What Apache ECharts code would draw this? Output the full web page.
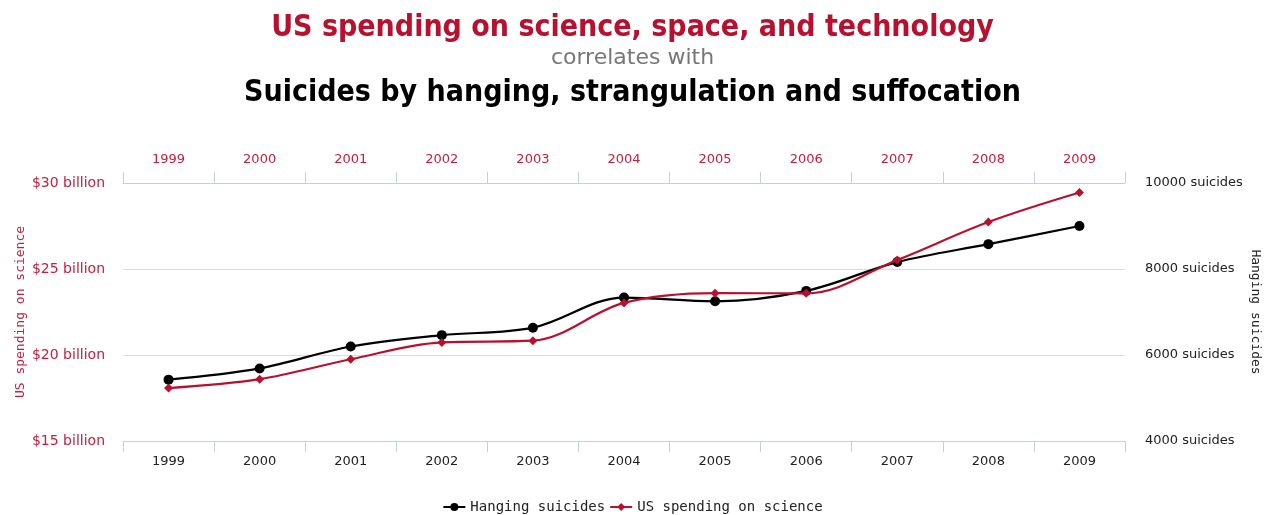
<!DOCTYPE html>
<html><head><meta charset="utf-8">
<script src="https://cdn.jsdelivr.net/npm/echarts@6/dist/echarts.min.js"></script>
<style>html,body{margin:0;padding:0;background:#fff}#c{width:1265px;height:515px}</style>
</head><body><div id="c"></div>
<script>
const years = ['1999','2000','2001','2002','2003','2004','2005','2006','2007','2008','2009'];
const hangingSuicides = [5427,5688,6198,6462,6635,7336,7248,7491,8161,8578,9000];
const usSpending = [18.079,18.594,19.753,20.734,20.831,23.029,23.597,23.584,25.525,27.731,29.449];
const leftTicks = [15,20,25,30];
const rightTicks = [4000,6000,8000,10000];

const RED = '#b8112f';
const LRED = '#c4203c';
const AXIS = '#c2cfe6';
const chart = echarts.init(document.getElementById('c'));
chart.setOption({
  animation:false,
  backgroundColor:'#fff',
  title:[
    {text:'US spending on science, space, and technology',left:'center',top:8,
     textStyle:{fontFamily:'DejaVu Sans Condensed',fontWeight:'bold',fontSize:30,color:RED}},
    {text:'correlates with',left:'center',top:42,
     textStyle:{fontFamily:'DejaVu Sans',fontWeight:'normal',fontSize:22,color:'#777'}},
    {text:'Suicides by hanging, strangulation and suffocation',left:'center',top:73,
     textStyle:{fontFamily:'DejaVu Sans Condensed',fontWeight:'bold',fontSize:30,color:'#000'}}
  ],
  legend:{top:495,left:'center',itemGap:4,itemWidth:22,itemHeight:10,
    textStyle:{fontFamily:'DejaVu Sans Mono',fontSize:14,color:'#222'},
    data:['Hanging suicides','US spending on science']},
  grid:{left:123,right:140,top:183,bottom:74,outerBoundsMode:'none',containLabel:false},
  xAxis:[
    {type:'category',data:years,position:'bottom',boundaryGap:true,
     axisLine:{show:true,onZero:false,lineStyle:{color:AXIS,width:1}},
     axisTick:{show:true,length:11,lineStyle:{color:AXIS}},
     axisLabel:{color:'#222',fontFamily:'DejaVu Sans',fontSize:13,margin:14}},
    {type:'category',data:years,position:'top',boundaryGap:true,
     axisLine:{show:true,onZero:false,lineStyle:{color:AXIS,width:1}},
     axisTick:{show:true,length:11,lineStyle:{color:AXIS}},
     axisLabel:{color:LRED,fontFamily:'DejaVu Sans',fontSize:13,margin:17}}
  ],
  yAxis:[
    {type:'value',position:'left',min:leftTicks[0],max:leftTicks[leftTicks.length-1],interval:5,
     name:'US spending on science',nameLocation:'middle',nameGap:96,nameRotate:90,nameMoveOverlap:false,
     nameTextStyle:{color:LRED,fontFamily:'DejaVu Sans Mono',fontSize:13},
     axisLine:{show:false},axisTick:{show:false},
     splitLine:{lineStyle:{color:'#dcdcdc'}},
     axisLabel:{color:LRED,fontFamily:'DejaVu Sans',fontSize:14,margin:18,formatter:v=>'$'+v+' billion'}},
    {type:'value',position:'right',min:rightTicks[0],max:rightTicks[rightTicks.length-1],interval:2000,
     name:'Hanging suicides',nameLocation:'middle',nameGap:124,nameRotate:-90,nameMoveOverlap:false,
     nameTextStyle:{color:'#222',fontFamily:'DejaVu Sans Mono',fontSize:13},
     axisLine:{show:false},axisTick:{show:false},splitLine:{show:false},
     axisLabel:{color:'#222',fontFamily:'DejaVu Sans',fontSize:13,margin:20,formatter:v=>v+' suicides'}}
  ],
  series:[
    {name:'Hanging suicides',type:'line',xAxisIndex:0,yAxisIndex:1,data:hangingSuicides,smooth:0.35,
     symbol:'circle',symbolSize:10,itemStyle:{color:'#000'},lineStyle:{color:'#000',width:2.2},z:3},
    {name:'US spending on science',type:'line',xAxisIndex:0,yAxisIndex:0,data:usSpending,smooth:0.35,
     symbol:'diamond',symbolSize:9,itemStyle:{color:RED},lineStyle:{color:RED,width:2.2},z:4}
  ]
});
</script></body></html>
